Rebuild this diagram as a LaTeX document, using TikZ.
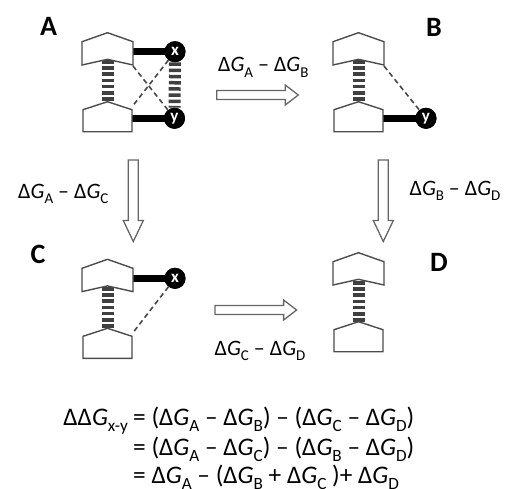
\documentclass[tikz,border=0pt]{standalone}
\usepackage{fontspec}
\setmainfont{Carlito}
\newcommand\dsub[1]{\raisebox{-0.27em}{\scalebox{0.68}{#1}}}
\newcommand\dG{Δ\textit{G}}
\tikzset{
  outl/.style={draw=black!70, line width=1.4pt, fill=white, line join=miter},
  ladder/.style={draw=black!75, line width=12pt, dash pattern=on 3.5pt off 2.7pt},
  stick/.style={draw=black, line width=7pt},
  weak/.style={draw=black!72, line width=1.6pt, dash pattern=on 5pt off 3.5pt},
  ball/.style={circle, fill=black, minimum size=21pt, inner sep=0pt, text=white, font=\fontsize{17}{17}\selectfont\bfseries},
  barrow/.style={draw=black!60, line width=1.3pt, fill=white, line join=miter},
  lbl/.style={font=\fontsize{22}{24}\selectfont, inner sep=0pt, anchor=base},
  eqn/.style={font=\fontsize{25.3}{27}\selectfont, inner sep=0pt},
  tag/.style={font=\fontsize{28}{30}\selectfont\bfseries, inner sep=0pt},
  topmono/.pic={\path[outl] (0,0) -- (25.5,9) -- (25.5,32.3) -- (0,26.6) -- (-25.5,32.3) -- (-25.5,9) -- cycle;},
  botmono/.pic={\path[outl] (0,0) -- (24.5,8) -- (24.5,30) -- (-24.5,30) -- (-24.5,8) -- cycle;},
  harrow/.pic={\path[barrow] (0,-4.5) -- (68.6,-4.5) -- (68.6,-10) -- (81.6,0) -- (68.6,10) -- (68.6,4.5) -- (0,4.5) -- cycle;},
  varrow/.pic={\path[barrow] (0,-5) -- (60.5,-5) -- (60.5,-10) -- (81.5,0) -- (60.5,10) -- (60.5,5) -- (0,5) -- cycle;},
}
\begin{document}
\begin{tikzpicture}[x=1pt,y=-1pt]
\useasboundingbox (0,0) rectangle (509,488);
\clip (0,0) rectangle (509,488);
% ---------- A ----------
\node[ball] (ax) at (175,51.7) {x};
\node[ball] (ay) at (174.5,118.3) {y};
\draw[ladder] (107.5,60) -- (107.5,102);
\draw[ladder] (ax.south) -- (ay.north);
\draw[stick] (132,51.7) -- ([xshift=1.5pt]ax.west);
\draw[stick] (131,118.3) -- ([xshift=1.5pt]ay.west);
\draw[weak] (133,66) -- (ay);
\draw[weak] (ax) -- (133.5,105);
\pic at (107.5,32.7) {topmono};
\pic at (107.5,101.7) {botmono};
\node[ball] at (ax) {x};
\node[ball] at (ay) {y};
% ---------- B ----------
\node[ball] (by) at (426,118.3) {y};
\draw[ladder] (358.5,60) -- (358.5,102);
\draw[stick] (382,118.3) -- ([xshift=1.5pt]by.west);
\draw[weak] (384,66) -- (by);
\pic at (358.5,32.7) {topmono};
\pic at (358.5,101.7) {botmono};
\node[ball] at (by) {y};
% ---------- C ----------
\node[ball] (cx) at (175,278.3) {x};
\draw[ladder] (107.5,287) -- (107.5,329);
\draw[stick] (132,278.3) -- ([xshift=1.5pt]cx.west);
\draw[weak] (cx) -- (133.5,332);
\pic at (107.5,259.3) {topmono};
\pic at (107.5,328.3) {botmono};
\node[ball] at (cx) {x};
% ---------- D ----------
\draw[ladder] (358.5,281) -- (358.5,323);
\pic at (358.5,252.7) {topmono};
\pic at (358.5,321.7) {botmono};
% ---------- arrows ----------
\pic at (216.7,95) {harrow};
\pic at (215,310) {harrow};
\pic[rotate=-90] at (133.3,160) {varrow};
\pic[rotate=-90] at (383.3,160) {varrow};
\node[lbl] (lab) at (263.3,71.7) {\dG\dsub{A} – \dG\dsub{B}};
\node[lbl] (lac) at (63.3,198) {\dG\dsub{A} – \dG\dsub{C}};
\node[lbl] (lbd) at (455,195) {\dG\dsub{B} – \dG\dsub{D}};
\node[lbl] (lcd) at (260,355) {\dG\dsub{C} – \dG\dsub{D}};
% ---------- tags ----------
\node[tag] (tA) at (48.7,26.3) {A};
\node[tag] (tB) at (434,27.5) {B};
\node[tag] (tC) at (38,254) {C};
\node[tag] (tD) at (439,262) {D};
% ---------- equation ----------
\node[eqn, anchor=base east] (lhs) at (128,425) {ΔΔ\textit{G}\dsub{x-y}};
\node[eqn, anchor=base west] (e1) at (133,425) {= (\dG\dsub{A} – \dG\dsub{B}) – (\dG\dsub{C} – \dG\dsub{D})};
\node[eqn, anchor=base west] (e2) at (133,455) {= (\dG\dsub{A} – \dG\dsub{C}) – (\dG\dsub{B} – \dG\dsub{D})};
\node[eqn, anchor=base west] (e3) at (133,483) {= \dG\dsub{A} – (\dG\dsub{B} + \dG\dsub{C} )+ \dG\dsub{D}};
\end{tikzpicture}
\end{document}
